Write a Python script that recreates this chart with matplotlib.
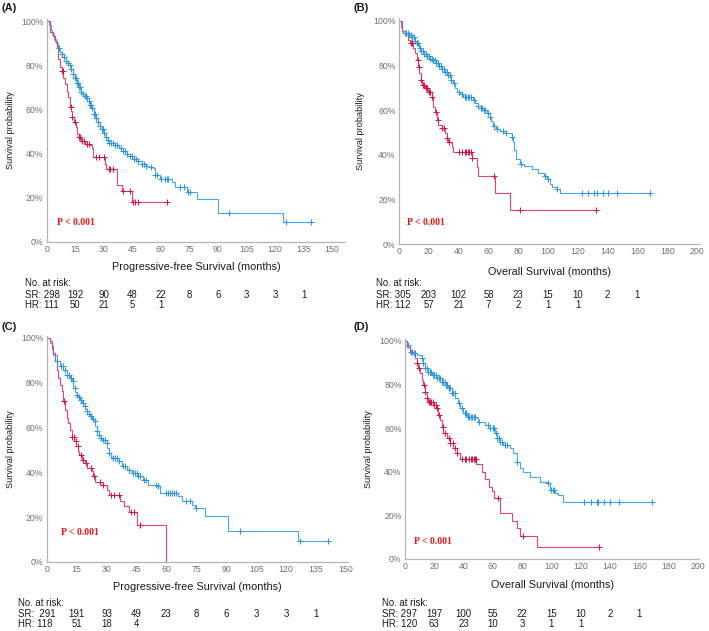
import numpy as np
import matplotlib.pyplot as plt
from matplotlib import transforms

plt.rcParams['font.family'] = ['Liberation Sans', 'DejaVu Sans']

BLUE = '#45a8f0'
BLUE_MARK = '#2f96e6'
RED = '#e8456e'
RED_MARK = '#d4154b'
W, H = 709, 631

# ---- (A) PFS, cohort 1 ----
a_sr_t = [0, 1, 2, 3, 4, 5, 6, 7, 8, 9, 10, 11, 12, 13, 14, 15, 16, 17, 18, 19, 20, 21, 22, 23, 24, 25,
          26, 27, 28, 29, 30, 31, 32, 33, 36, 38, 40, 42, 44, 46, 48, 50, 52, 54, 56, 57, 59.5, 65.6,
          67.4, 73.5, 78.8, 90, 124]
a_sr_s = [100, 98, 96, 94, 92, 90, 88, 86, 85, 83.5, 82, 81, 80, 78.5, 76, 74, 72, 70, 68, 67, 66, 65,
          64, 62, 60.5, 58, 56, 54.5, 52.5, 51, 49.5, 47.5, 46, 44.7, 44, 42.5, 41, 40, 39, 37.5, 36.5,
          35.5, 34.5, 34, 33.3, 30.3, 28.4, 27.3, 25, 22.8, 19.5, 13, 9]
a_sr_end = 139
a_sr_cens = [6.5, 8, 9, 10, 11, 12, 13, 14, 15, 15.5, 16, 16.5, 17, 17.5, 18, 19, 20, 20.5, 21, 22, 23,
             23.5, 24, 25, 25.5, 26, 27, 28, 29, 29.5, 30, 31, 32, 33, 34, 35, 36, 37, 39, 40, 41, 42,
             44, 45, 46, 47, 48, 50, 51, 52, 55, 57, 58, 60, 62, 63, 64, 70, 72, 74.5, 75.5, 96, 126, 139]
a_hr_t = [0, 1.5, 3.5, 4.5, 5.3, 6, 7, 8, 8.5, 9.5, 10.5, 11.4, 12, 12.4, 12.8, 13.2, 14.4, 15.4, 16,
          16.8, 18, 20, 22.4, 23.6, 24.5, 30.5, 31.2, 36.8, 39.7, 45]
a_hr_s = [100, 95, 93, 91, 88, 83, 79, 77.5, 74, 71.5, 68, 65.5, 64, 61, 59.5, 56.5, 54.5, 52, 49,
          47.5, 45.5, 44.5, 44, 42.5, 38.6, 35.3, 32.9, 25.6, 23.2, 18.2]
a_hr_end = 63
a_hr_cens = [8, 8.4, 12.5, 13.3, 15, 17, 17.5, 18.5, 19.5, 21, 22, 26, 27.5, 30, 32.5, 33.5, 35, 40,
             44, 45.5, 46.5, 48, 63]
a_risk_t = [0, 15, 30, 45, 60, 75, 90, 105, 120, 135]
a_risk_sr = [298, 192, 90, 48, 22, 8, 6, 3, 3, 1]
a_risk_hr = [111, 50, 21, 5, 1]

# ---- (B) OS, cohort 1 ----
b_sr_t = [0, 1, 2, 4, 7, 9, 10.5, 12, 13.5, 15, 17, 19, 21, 23, 25, 27, 29, 31, 33, 35, 36, 37.5, 39,
          41, 43, 49.5, 51, 53, 55, 57, 59, 61, 62, 63, 65, 68, 72, 75.5, 76.5, 77.5, 78.5, 81, 84, 89,
          93, 97, 99, 101, 103, 106, 108]
b_sr_s = [100, 97, 95.5, 94.3, 93.6, 92.5, 91, 90, 88, 86.5, 85, 84, 83, 82.3, 81, 79.5, 78.5, 77,
          75.5, 73.5, 72, 70, 68, 67, 66, 64.5, 63, 62, 61, 60, 58.5, 57, 55, 53, 51.5, 50.5, 49.5, 48,
          45.5, 42, 38, 36, 35, 33.5, 32, 30.5, 29, 27, 25.5, 24.5, 22.7]
b_sr_end = 168.6
b_sr_cens = [4, 5, 6, 7, 8, 9, 10, 11, 12, 13, 14, 15, 16, 17, 18, 19, 20, 21, 22, 23, 24, 25, 26, 27,
             28, 29, 30, 31, 32, 33, 34, 35, 37, 40, 42, 44, 45, 46, 47, 48, 50, 53, 55, 56, 57, 58, 60,
             61, 64, 66, 70, 72, 76, 82, 98, 100, 106, 122.7, 127, 131, 133, 137, 140.5, 146, 168.6]
b_hr_t = [0, 1.8, 3, 6.3, 7.4, 9.6, 10.7, 12, 13, 13.7, 14.6, 15.2, 17.5, 19.7, 22, 23, 24.2, 25.3,
          26.4, 28.7, 31, 32, 33, 35.4, 36.5, 49, 52, 53.3, 64.5, 74.6]
b_hr_s = [100, 95.5, 94.3, 91.4, 89.9, 87.6, 85.4, 82.4, 79.4, 76.5, 73.5, 71.2, 69.7, 68.3, 66, 61.5,
          59.3, 55.6, 53.4, 51.9, 49.6, 47.4, 45.9, 43.6, 41.3, 38.3, 34.7, 30.3, 22.8, 15.4]
b_hr_end = 132.4
b_hr_cens = [8, 9, 12.5, 13.5, 15, 16, 17, 18, 19, 20, 21, 22, 25, 26, 29, 30.5, 32, 33.5, 40, 42, 44,
             45, 46, 47, 48, 49, 64, 81, 132.4]
b_risk_t = [0, 20, 40, 60, 80, 100, 120, 140, 160]
b_risk_sr = [305, 203, 102, 58, 23, 15, 10, 2, 1]
b_risk_hr = [112, 57, 21, 7, 2, 1, 1]

# ---- (C) PFS, cohort 2 ----
c_sr_t = [0, 1.7, 2.5, 3.3, 5, 6.7, 8.4, 10, 11.7, 12.5, 13.4, 14.2, 15, 15.8, 16.7, 17.5, 18.4, 19.2,
          20, 21, 21.7, 22.5, 23.4, 24.2, 25, 26, 27, 27.6, 29.3, 30.1, 31, 32, 32.6, 36, 37.6, 40.1,
          42.6, 45.2, 48.5, 51, 55.2, 56.9, 66, 67.7, 72.7, 74.4, 79.4, 90.8, 125.9]
c_sr_s = [100, 97.8, 94.8, 92.6, 89.6, 87.4, 85.9, 83.6, 82.1, 80.7, 77.7, 76, 74.7, 73.5, 72.5, 71,
          69.5, 68.4, 67.3, 66, 65, 64, 62.8, 60.5, 58.5, 56.8, 55.5, 54.6, 53, 51, 48.5, 47, 46.4,
          44.9, 42.7, 41.2, 39.7, 38.2, 36.8, 34.5, 33.8, 30.8, 29.3, 27, 25.6, 24.1, 20.4, 13.7, 9.2]
c_sr_end = 141
c_sr_cens = [5, 7, 8, 9, 10, 11, 12, 13, 14, 15, 16, 17, 18, 19, 20, 21, 22, 23, 24, 25, 26, 27, 28,
             29, 30, 31, 33, 34, 35, 36, 38, 39, 41, 43, 44, 45, 46, 47, 49, 50, 55, 56, 60, 61, 62, 63,
             64, 65, 70, 72, 75, 97, 127, 141]
c_hr_t = [0, 1.7, 2.5, 3.3, 4.2, 5, 5.9, 6.7, 7.5, 8.4, 9.2, 10, 10.9, 11.7, 12.5, 13.7, 14.7, 15.6,
          16.4, 17.6, 19.2, 20, 22.6, 23.4, 24.2, 26.8, 30.1, 31, 36.8, 38.5, 41, 45.2, 59.9]
c_hr_s = [100, 98.5, 96.3, 93.3, 89.6, 85.9, 82.1, 79.2, 76.2, 71.7, 68, 64.3, 62, 59, 56, 53.9, 51.6,
          49.4, 47.9, 45.6, 44.2, 41.9, 40.5, 38.2, 35.9, 34.5, 32.3, 30, 27, 24.8, 22.5, 16.5, 0]
c_hr_end = 59.9
c_hr_cens = [8.7, 12.5, 13.5, 14.5, 15.5, 17, 18, 19.5, 22, 23.5, 26.5, 28, 32, 33.5, 36, 42, 43.5, 47]
c_risk_t = [0, 15, 30, 45, 60, 75, 90, 105, 120, 135]
c_risk_sr = [291, 191, 93, 49, 23, 8, 6, 3, 3, 1]
c_risk_hr = [118, 51, 18, 4]

# ---- (D) OS, cohort 2 ----
d_sr_t = [0, 1.1, 3.4, 5.7, 8, 11.4, 12.5, 13.7, 16, 18.2, 21.6, 25, 27.3, 29.6, 31.9, 34.2, 36.4,
          37.6, 39.9, 42.1, 49, 50, 54.7, 58, 61.5, 62.6, 65, 67.2, 71.8, 74, 76.3, 78.6, 80.9, 85.4,
          92.3, 96.8, 99, 102.5, 104.8, 108.2]
d_sr_s = [100, 98.2, 95.1, 94.3, 93.6, 92, 89.7, 87.4, 85.9, 84.4, 82.8, 81.3, 79.8, 78.3, 76, 73.7,
          71.4, 69.1, 66.8, 65.3, 64.5, 63, 61.4, 59.9, 57.6, 55.3, 53.8, 52.2, 50.7, 48.4, 44.6, 41.5,
          40, 37.7, 35.4, 34.6, 31.5, 30, 29.2, 26.2]
d_sr_end = 168.6
d_sr_cens = [2, 4, 5, 6, 7, 11.6, 12.5, 13.9, 15, 16, 17, 18, 19, 20, 21, 22, 23, 24, 25, 26, 27, 28,
             29, 30, 31, 32, 33, 34, 37, 39, 41, 42, 43, 44, 45, 46, 47, 48, 50.6, 56.5, 58, 60, 61, 62,
             63, 64, 65, 66.5, 68, 70, 76.5, 97.6, 100, 101, 102, 122, 127, 131, 132, 136, 140, 146, 168.6]
d_hr_t = [0, 1.1, 3.4, 6.8, 8, 9.1, 10.3, 11.4, 12.5, 13.7, 14.8, 16, 19.4, 21.6, 22.8, 23.9, 25, 26.2,
          28.5, 30.8, 33, 35.3, 37.6, 48.8, 52.5, 54.5, 57.5, 59.5, 61, 65, 73, 76.5, 78.8, 90]
d_hr_s = [100, 97.4, 94.3, 92, 89.7, 87.4, 85.1, 82.1, 79.8, 76.7, 73.7, 72.1, 70.6, 69.1, 66, 63.7,
          60.6, 57.6, 55.3, 53, 50.7, 48.4, 45.8, 43.3, 40, 36.8, 33, 31, 28, 20.8, 17.5, 14, 10.5, 5.4]
d_hr_end = 132.8
d_hr_cens = [8.2, 9.3, 12.8, 14, 15, 16.2, 17, 18, 19, 20, 21, 22, 23, 26, 27, 29.8, 31, 32.5, 34, 35.5,
             39, 41, 42, 44, 45, 46, 47, 48, 48.5, 63.8, 80.4, 132.8]
d_risk_t = [0, 20, 40, 60, 80, 100, 120, 140, 160]
d_risk_sr = [297, 197, 100, 55, 22, 15, 10, 2, 1]
d_risk_hr = [120, 63, 23, 10, 3, 1, 1]


def km(ax, t, s, t_end, cens, color, mcolor):
    tt = list(t) + [t_end]
    ss = np.array(list(s) + [s[-1]]) / 100
    ax.step(tt, ss, where='post', color=color, lw=0.8, zorder=2)
    idx = np.searchsorted(t, cens, side='right') - 1
    ax.plot(cens, np.array(s)[idx] / 100, ls='none', marker='+', ms=3.8, mew=0.75,
            color=mcolor, zorder=3)


def fy(py):
    return 1 - py / H


fig = plt.figure(figsize=(W / 100, H / 100), dpi=100)

panels = [
    dict(rect=[0.0659, 0.6165, 0.4207, 0.3537], xmax=156.8, ticks=range(0, 151, 15),
         xlabel='Progressive-free Survival (months)', tag='(A)', tag_xy=(1, 8), sep=' ',
         sr=(a_sr_t, a_sr_s, a_sr_end, a_sr_cens), hr=(a_hr_t, a_hr_s, a_hr_end, a_hr_cens),
         risk=(a_risk_t, a_risk_sr, a_risk_hr), rows=(267.5, 283.3, 294.5, 304.5), lx=25,
         p=(15.4, 0.09), ylx=-0.106),
    dict(rect=[0.5628, 0.6133, 0.4245, 0.3574], xmax=202, ticks=range(0, 201, 20),
         xlabel='Overall Survival (months)', tag='(B)', tag_xy=(353, 8), sep=' ',
         sr=(b_sr_t, b_sr_s, b_sr_end, b_sr_cens), hr=(b_hr_t, b_hr_s, b_hr_end, b_hr_cens),
         risk=(b_risk_t, b_risk_sr, b_risk_hr), rows=(271.7, 283.5, 294.5, 304.5), lx=376,
         p=(18.3, 0.097), ylx=-0.113),
    dict(rect=[0.0659, 0.1094, 0.4249, 0.3585], xmax=151, ticks=range(0, 151, 15),
         xlabel='Progressive-free Survival (months)', tag='(C)', tag_xy=(1, 327), sep='  ',
         sr=(c_sr_t, c_sr_s, c_sr_end, c_sr_cens), hr=(c_hr_t, c_hr_s, c_hr_end, c_hr_cens),
         risk=(c_risk_t, c_risk_sr, c_risk_hr), rows=(586.7, 602.7, 614.3, 624.3), lx=18,
         p=(16.7, 0.133), ylx=-0.105),
    dict(rect=[0.5712, 0.1146, 0.4151, 0.3485], xmax=201, ticks=range(0, 201, 20),
         xlabel='Overall Survival (months)', tag='(D)', tag_xy=(353, 327), sep=' ',
         sr=(d_sr_t, d_sr_s, d_sr_end, d_sr_cens), hr=(d_hr_t, d_hr_s, d_hr_end, d_hr_cens),
         risk=(d_risk_t, d_risk_sr, d_risk_hr), rows=(585, 602.7, 614, 624), lx=382,
         p=(19.1, 0.081), ylx=-0.108),
]

TXT = dict(fontsize=6.9, color='#1a1a1a', va='center')

for p in panels:
    ax = fig.add_axes(p['rect'])
    km(ax, *p['sr'], BLUE, BLUE_MARK)
    km(ax, *p['hr'], RED, RED_MARK)
    ax.set_xlim(0, p['xmax'])
    ax.set_ylim(0, 1.01)
    ax.set_xticks(list(p['ticks']))
    yt = np.arange(0, 1.01, 0.2)
    ax.set_yticks(yt)
    ax.set_yticklabels([f'{round(v * 100)}%' for v in yt])
    ax.spines[['top', 'right']].set_visible(False)
    ax.spines[['left', 'bottom']].set_color('#b5b5b5')
    ax.spines[['left', 'bottom']].set_linewidth(0.9)
    ax.tick_params(length=0, labelsize=6.3, labelcolor='#707070', pad=2.5)
    ax.set_ylabel('Survival probability', fontsize=6.6, color='#1a1a1a')
    ax.yaxis.set_label_coords(p['ylx'], 0.5)
    ax.text(*p['p'], 'P < 0.001', family='Liberation Serif', weight='bold', color='#f01515',
            fontsize=7, ha='center', va='center')

    x0, w = p['rect'][0], p['rect'][2]
    y_lab, y_no, y_sr, y_hr = p['rows']
    fig.text(x0 + w / 2, fy(y_lab), p['xlabel'], fontsize=7.8, color='#1a1a1a',
             ha='center', va='center')
    rt, rsr, rhr = p['risk']
    fig.text(p['lx'] / W, fy(y_no), 'No. at risk:', **TXT)
    # first column sits next to the row label, the rest under the ticks
    fig.text(p['lx'] / W, fy(y_sr), 'SR:' + p['sep'] + str(rsr[0]), **TXT)
    fig.text(p['lx'] / W, fy(y_hr), 'HR: ' + str(rhr[0]), **TXT)
    trans = transforms.blended_transform_factory(ax.transData, fig.transFigure)
    for t, n in zip(rt[1:], rsr[1:]):
        ax.text(t, fy(y_sr), str(n), transform=trans, ha='center', clip_on=False, **TXT)
    for t, n in zip(rt[1:], rhr[1:]):
        ax.text(t, fy(y_hr), str(n), transform=trans, ha='center', clip_on=False, **TXT)
    fig.text(p['tag_xy'][0] / W, fy(p['tag_xy'][1]), p['tag'], fontsize=8, weight='bold',
             color='#1a1a1a', ha='left', va='center')

fig.savefig('out.png', dpi=100)
